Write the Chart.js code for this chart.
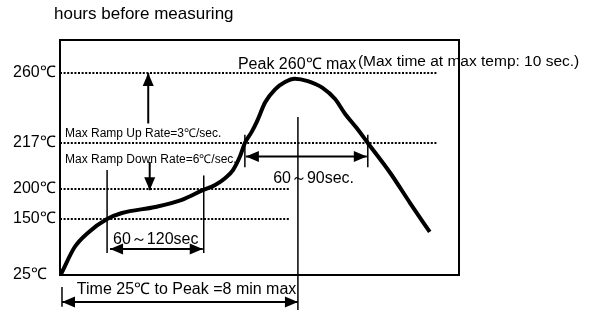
<!DOCTYPE html>
<html>
<head>
<meta charset="utf-8">
<script src="https://cdn.jsdelivr.net/npm/chart.js@4.4.1/dist/chart.umd.min.js"></script>
<style>
  body { margin: 0; background: #fff; }
  #wrap { width: 597px; height: 311px; position: relative; }
</style>
</head>
<body>
<div id="wrap"><canvas id="perfil"></canvas></div>
<script>
// reflow profile, time in seconds, temperature in ℃
const profileTime = [2, 30, 56, 95, 125, 192, 246, 288, 313, 333, 349, 363, 373, 387, 397, 414, 434, 454, 474, 500, 529, 555, 575, 599, 621, 666, 706, 746];
const profileTemp = [27, 88, 119, 150, 160, 170, 182, 198, 201.5, 204, 207, 212, 217, 224, 230, 242, 250, 254.5, 256.5, 255, 251, 244, 235, 226, 217, 206, 177, 121];

const tempLevels = [25, 150, 200, 217, 260];
const tempUnit = '℃';

// dotted level lines: temperature and where they stop
const guideTemps = [260, 217, 200, 150];
const guideEnds = [762, 762, 464, 464];

// vertical marker lines: time, from temp, to temp
const markerTimes = [95, 290, 480, 373, 621, 4];
const markerFrom = [74, 74, -53, 208, 208, -46];
const markerTo = [207, 205, 233, 222, 222, -2];

// arrows: start (time, temp) -> end (time, temp), both heads or only at the end
const arrowStartT = [178, 181, 101, 375, 4];
const arrowStartY = [229, 210, 83, 212, -35];
const arrowEndT = [178, 181, 288, 619, 480];
const arrowEndY = [260, 198, 83, 212, -35];
const arrowBoth = [false, false, true, true, true];

// notes on the drawing
const noteTexts = [
    'Max Ramp Up Rate=3℃/sec.',
    'Max Ramp Down Rate=6℃/sec.',
    'Peak 260℃ max',
    '(Max time at max temp: 10 sec.)',
    '60～120sec',
    '60～90sec.',
    'Time 25℃ to Peak =8 min max'
];
const noteT = [10, 10, 359, 601, 107, 430, 34];
const noteY = [223, 211, 265, 267, 103, 204, -8.5];
const noteSize = [12, 12, 16, 15.5, 16, 16, 16];

const chartTitle = 'hours before measuring';

// the temperature axis of the drawing is not to scale: each level sits at its own height
const yStops = [[25, 0], [150, 0.2383], [200, 0.366], [217, 0.5617], [260, 0.8596], [280, 1]];

function tempToDecimal(v) {
    let i = 1;
    while (i < yStops.length - 1 && v > yStops[i][0]) i++;
    const a = yStops[i - 1], b = yStops[i];
    return a[1] + (v - a[0]) * (b[1] - a[1]) / (b[0] - a[0]);
}
function decimalToTemp(d) {
    let i = 1;
    while (i < yStops.length - 1 && d > yStops[i][1]) i++;
    const a = yStops[i - 1], b = yStops[i];
    return a[0] + (d - a[1]) * (b[0] - a[0]) / (b[1] - a[1]);
}

class PiecewiseScale extends Chart.LinearScale {
    getPixelForValue(value) {
        return this.getPixelForDecimal(tempToDecimal(value));
    }
    getValueForPixel(pixel) {
        return decimalToTemp(this.getDecimalForPixel(pixel));
    }
}
PiecewiseScale.id = 'piecewise';
PiecewiseScale.defaults = Chart.LinearScale.defaults;
Chart.register(PiecewiseScale);

const fonte = "'Liberation Sans', Arial, sans-serif";
const preto = '#000000';

function arrowHead(ctx, x, y, ang) {
    const len = 13, half = 5.5;
    ctx.beginPath();
    ctx.moveTo(x, y);
    ctx.lineTo(x - len * Math.cos(ang) + half * Math.sin(ang), y - len * Math.sin(ang) - half * Math.cos(ang));
    ctx.lineTo(x - len * Math.cos(ang) - half * Math.sin(ang), y - len * Math.sin(ang) + half * Math.cos(ang));
    ctx.closePath();
    ctx.fill();
}

const desenho = {
    id: 'desenho',
    beforeDatasetsDraw(chart) {
        const { ctx, chartArea: a, scales: { x, y } } = chart;
        ctx.save();
        // frame
        ctx.strokeStyle = preto;
        ctx.lineWidth = 2;
        ctx.strokeRect(a.left, a.top, a.right - a.left, a.bottom - a.top);
        // dotted levels
        ctx.setLineDash([2, 1.6]);
        guideTemps.forEach((t, i) => {
            const py = Math.round(y.getPixelForValue(t));
            ctx.beginPath();
            ctx.moveTo(a.left, py);
            ctx.lineTo(x.getPixelForValue(guideEnds[i]), py);
            ctx.stroke();
        });
        ctx.restore();
    },
    afterDatasetsDraw(chart) {
        const { ctx, chartArea: a, scales: { x, y } } = chart;
        ctx.save();
        ctx.strokeStyle = preto;
        ctx.fillStyle = preto;
        // vertical markers
        ctx.lineWidth = 1.5;
        markerTimes.forEach((t, i) => {
            const px = x.getPixelForValue(t);
            ctx.beginPath();
            ctx.moveTo(px, y.getPixelForValue(markerFrom[i]));
            ctx.lineTo(px, y.getPixelForValue(markerTo[i]));
            ctx.stroke();
        });
        // arrows
        ctx.lineWidth = 2;
        arrowStartT.forEach((t, i) => {
            const x1 = x.getPixelForValue(t), y1 = y.getPixelForValue(arrowStartY[i]);
            const x2 = x.getPixelForValue(arrowEndT[i]), y2 = y.getPixelForValue(arrowEndY[i]);
            const ang = Math.atan2(y2 - y1, x2 - x1);
            ctx.beginPath();
            ctx.moveTo(x1, y1);
            ctx.lineTo(x2, y2);
            ctx.stroke();
            arrowHead(ctx, x2, y2, ang);
            if (arrowBoth[i]) arrowHead(ctx, x1, y1, ang + Math.PI);
        });
        // notes
        ctx.textAlign = 'left';
        ctx.textBaseline = 'middle';
        noteTexts.forEach((txt, i) => {
            ctx.font = `${noteSize[i]}px ${fonte}`;
            ctx.fillText(txt, x.getPixelForValue(noteT[i]), y.getPixelForValue(noteY[i]));
        });
        ctx.font = `17px ${fonte}`;
        ctx.fillText(chartTitle, a.left - 6, a.top - 26);
        ctx.restore();
    }
};

new Chart(document.getElementById('perfil'), {
    type: 'line',
    data: {
        datasets: [{
            data: profileTime.map((t, i) => ({ x: t, y: profileTemp[i] })),
            borderColor: preto,
            borderWidth: 4,
            cubicInterpolationMode: 'monotone',
            pointRadius: 0,
            fill: false
        }]
    },
    options: {
        responsive: true,
        maintainAspectRatio: false,
        animation: false,
        layout: { padding: { left: 13, top: 40, right: 138, bottom: 36 } },
        plugins: {
            legend: { display: false },
            tooltip: { enabled: false }
        },
        scales: {
            x: {
                type: 'linear',
                min: 0,
                max: 805,
                display: false
            },
            y: {
                type: 'piecewise',
                min: 25,
                max: 280,
                afterBuildTicks: (s) => { s.ticks = tempLevels.map(v => ({ value: v })); },
                afterFit: (s) => { s.width = 47; },
                grid: { display: false },
                border: { display: false },
                ticks: {
                    autoSkip: false,
                    crossAlign: 'far',
                    padding: 0,
                    color: preto,
                    font: { family: fonte, size: 16 },
                    callback: (v) => v + tempUnit
                }
            }
        }
    }
    ,
    plugins: [desenho]
});
</script>
</body>
</html>
